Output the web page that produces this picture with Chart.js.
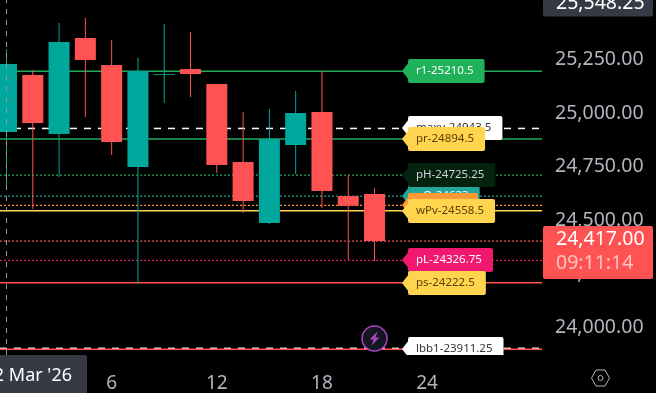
<!DOCTYPE html>
<html>
<head>
<meta charset="utf-8">
<script src="https://cdn.jsdelivr.net/npm/chart.js@4/dist/chart.umd.min.js"></script>
<style>
  html, body { margin: 0; padding: 0; background: #000; overflow: hidden; }
  canvas { display: block; }
</style>
</head>
<body>
<canvas id="chart" width="656" height="393"></canvas>
<script>
  // candles, index 0 is the one under the crosshair
  var opens  = [24927, 25193, 24917.5, 25366, 25240, 24763.5, 25194, 25221, 25151, 24786.5, 24501.5, 24866, 25020, 24627.5, 24637];
  var closes = [25244.5, 24969, 25347.5, 25263, 24880, 25212, 25198, 25198, 24772.5, 24604.5, 24894, 25015.5, 24651, 24582, 24417];
  var highs  = [25313, 25216.5, 25436, 25459.5, 25357, 25272.5, 25431.5, 25394, 25151, 25020, 25034, 25118, 25210.5, 24726, 24665];
  var lows   = [24674.5, 24567, 24716.5, 24997, 24819.5, 24216.5, 25062.5, 25090.5, 24735, 24548, 24497, 24730.5, 24571.5, 24328.5, 24324];

  var xTickIndex = [4, 8, 12, 16];
  var xTickLabels = ['6', '12', '18', '24'];

  // horizontal levels
  var levelNames  = ['r1', 'maxy', 'pr', 'pO', 'pH', 'pC', 'wPv', 'pL', 'ps', 'lbb1'];
  var levelValues = [25210.5, 24943.5, 24894.5, 24627, 24725.25, 24584, 24558.5, 24326.75, 24222.5, 23911.25];
  var levelText   = ['r1-25210.5', 'maxy-24943.5', 'pr-24894.5', 'pO-24623', 'pH-24725.25', 'pC-24584', 'wPv-24558.5', 'pL-24326.75', 'ps-24222.5', 'lbb1-23911.25'];
  var levelLine   = ['#22ab5b', '#ffffff', '#22ab5b', '#26a69a', '#22ab5b', '#ff9933', '#ffd54f', '#d81b60', '#ff5252', '#ff5252'];
  var levelDash   = [[], [7, 7], [], [2, 2], [2, 2], [2, 2], [], [2, 2], [], []];
  var levelFill   = ['#1fb25a', '#ffffff', '#ffd54f', '#26a69a', '#04230f', '#ff9933', '#ffd54f', '#f0186f', '#ffd54f', '#ffffff'];
  var levelInk    = ['#ffffff', '#333333', '#5d4000', '#ffffff', '#d1d4dc', '#5d4000', '#5d4000', '#ffffff', '#5d4000', '#333333'];

  var lastPrice = 24417;
  var lastPriceLabel = '24,417.00';
  var countdownLabel = '09:11:14';
  var minyValue = 23916;
  var topPriceLabel = '25,548.25';
  var crosshairDate = "2 Mar '26";

  var UP = '#00a79d';
  var DOWN = '#ff5252';
  var AXIS_TEXT = '#b2b5be';
  var FONT = '"Noto Sans"';

  var xMin = -0.247, xMax = 20.37;
  var yMin = 23884.8, yMax = 25543.7;

  function candleColor(i) {
    return closes[i] >= opens[i] ? UP : DOWN;
  }

  function flatLine(value, color, dash, width, order) {
    return {
      type: 'line',
      data: [{ x: xMin, y: value }, { x: xMax, y: value }],
      borderColor: color,
      borderDash: dash,
      borderWidth: width,
      pointRadius: 0,
      order: order
    };
  }

  var datasets = [];

  levelValues.forEach(function(v, i) {
    var width = levelDash[i].length && levelNames[i] !== 'maxy' ? 1.2 : 1.5;
    datasets.push(flatLine(v, levelLine[i], levelDash[i], width, 20));
  });
  datasets.push(flatLine(lastPrice, DOWN, [2, 2], 1.2, 20));
  datasets.push(flatLine(minyValue, '#ffffff', [7, 7], 1.5, 21));

  // wicks go under the bodies
  datasets.push({
    type: 'bar',
    data: opens.map(function(o, i) { return { x: i, y: [lows[i], highs[i]] }; }),
    backgroundColor: opens.map(function(o, i) { return candleColor(i); }),
    barThickness: 1,
    grouped: false,
    inflateAmount: 0,
    order: 10
  });
  datasets.push({
    type: 'bar',
    data: opens.map(function(o, i) { return { x: i, y: [o, closes[i]] }; }),
    backgroundColor: opens.map(function(o, i) { return candleColor(i); }),
    barThickness: 21,
    grouped: false,
    inflateAmount: 0,
    order: 5
  });

  // crosshair
  datasets.push({
    type: 'line',
    data: [{ x: 0, y: yMin }, { x: 0, y: yMax }],
    borderColor: '#9598a1',
    borderDash: [5, 6],
    borderWidth: 1,
    pointRadius: 0,
    order: 1
  });

  function roundBox(ctx, x, y, w, h, r) {
    ctx.beginPath();
    ctx.roundRect(x, y, w, h, r);
    ctx.fill();
  }

  function drawCallout(ctx, i, yScale) {
    var cy = Math.round(yScale.getPixelForValue(levelValues[i]));
    var tip = 402, left = 408;
    ctx.font = '11.5px ' + FONT;
    var w = ctx.measureText(levelText[i]).width + 19;
    ctx.fillStyle = levelFill[i];
    roundBox(ctx, left, cy - 12, w, 24, 2);
    ctx.beginPath();
    ctx.moveTo(tip, cy);
    ctx.lineTo(left + 1, cy - 9);
    ctx.lineTo(left + 1, cy + 9);
    ctx.closePath();
    ctx.fill();
    ctx.fillStyle = levelInk[i];
    ctx.textAlign = 'left';
    ctx.textBaseline = 'middle';
    ctx.fillText(levelText[i], left + 8, cy);
  }

  function drawBolt(ctx) {
    var cx = 374.5, cy = 338.5;
    ctx.beginPath();
    ctx.arc(cx, cy, 12.5, 0, Math.PI * 2);
    ctx.fillStyle = '#131722';
    ctx.fill();
    ctx.lineWidth = 1.5;
    ctx.strokeStyle = '#ab47bc';
    ctx.stroke();
    ctx.beginPath();
    ctx.moveTo(cx + 3, cy - 7);
    ctx.lineTo(cx - 5, cy + 1);
    ctx.lineTo(cx - 1, cy + 1);
    ctx.lineTo(cx - 3, cy + 7);
    ctx.lineTo(cx + 5, cy - 1);
    ctx.lineTo(cx + 1, cy - 1);
    ctx.closePath();
    ctx.fillStyle = '#ab47bc';
    ctx.fill();
  }

  function drawHexagon(ctx) {
    var cx = 600.5, cy = 378;
    var pts = [[-4.5, -8], [4.5, -8], [9, 0], [4.5, 8], [-4.5, 8], [-9, 0]];
    ctx.beginPath();
    pts.forEach(function(p, i) {
      if (i === 0) ctx.moveTo(cx + p[0], cy + p[1]);
      else ctx.lineTo(cx + p[0], cy + p[1]);
    });
    ctx.closePath();
    ctx.strokeStyle = AXIS_TEXT;
    ctx.lineWidth = 1;
    ctx.stroke();
    ctx.beginPath();
    ctx.arc(cx, cy, 2.5, 0, Math.PI * 2);
    ctx.stroke();
  }

  var overlay = {
    id: 'overlay',
    afterDraw: function(chart) {
      var ctx = chart.ctx;
      var area = chart.chartArea;
      var yScale = chart.scales.y;

      ctx.save();
      ctx.beginPath();
      ctx.rect(0, 0, area.right + 20, area.bottom);
      ctx.clip();
      levelNames.forEach(function(name, i) {
        drawCallout(ctx, i, yScale);
      });
      drawBolt(ctx);
      ctx.restore();

      ctx.save();
      // crosshair date box
      ctx.fillStyle = '#363a45';
      roundBox(ctx, -10, area.bottom, 97, 50, 2);
      ctx.fillStyle = '#ffffff';
      ctx.font = '18px ' + FONT;
      ctx.textAlign = 'right';
      ctx.textBaseline = 'middle';
      ctx.fillText(crosshairDate, 72, 376);

      // top price box
      ctx.fillStyle = '#363a45';
      roundBox(ctx, 543, -10, 110, 26.5, 2);
      ctx.fillStyle = '#ffffff';
      ctx.textAlign = 'left';
      ctx.font = '19.5px ' + FONT;
      ctx.fillText(topPriceLabel, 556, 3);

      // last price box
      ctx.fillStyle = DOWN;
      roundBox(ctx, 543, 226, 110, 53, 2);
      ctx.fillStyle = '#ffffff';
      ctx.fillText(lastPriceLabel, 556, 239);
      ctx.fillStyle = 'rgba(255,255,255,0.65)';
      ctx.fillText(countdownLabel, 556, 263);

      drawHexagon(ctx);
      ctx.restore();
    }
  };

  new Chart(document.getElementById('chart'), {
    data: { datasets: datasets },
    plugins: [overlay],
    options: {
      responsive: false,
      animation: false,
      layout: { padding: 0 },
      plugins: { legend: { display: false }, tooltip: { enabled: false } },
      scales: {
        x: {
          type: 'linear',
          offset: false,
          min: xMin,
          max: xMax,
          grid: { display: false },
          border: { display: false },
          afterBuildTicks: function(scale) {
            scale.ticks = xTickIndex.map(function(v) { return { value: v }; });
          },
          afterFit: function(scale) {
            scale.height = 38;
            scale.paddingLeft = 0;
            scale.paddingRight = 0;
          },
          ticks: {
            autoSkip: false,
            maxRotation: 0,
            padding: 9,
            color: AXIS_TEXT,
            font: { family: FONT, size: 19 },
            callback: function(value) {
              return xTickLabels[xTickIndex.indexOf(value)];
            }
          }
        },
        y: {
          position: 'right',
          min: yMin,
          max: yMax,
          grid: { display: false },
          border: { display: false },
          afterFit: function(scale) {
            scale.width = 114;
            scale.paddingTop = 0;
            scale.paddingBottom = 0;
          },
          ticks: {
            stepSize: 250,
            includeBounds: false,
            padding: 5,
            labelOffset: -3,
            color: AXIS_TEXT,
            font: { family: FONT, size: 19.5 },
            callback: function(value) {
              return value.toLocaleString('en-US', { minimumFractionDigits: 2, maximumFractionDigits: 2 });
            }
          }
        }
      }
    }
  });
</script>
</body>
</html>
